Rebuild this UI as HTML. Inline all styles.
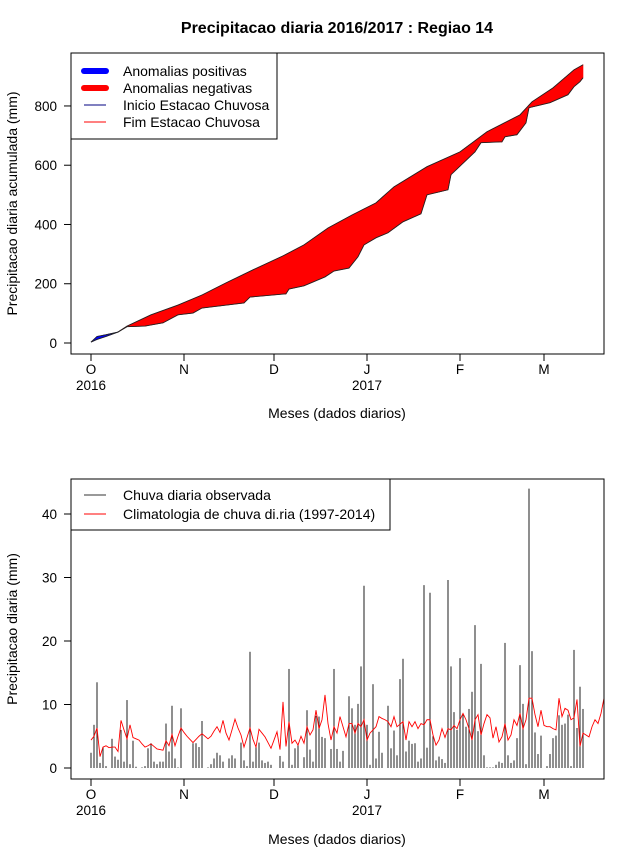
<!DOCTYPE html>
<html><head><meta charset="utf-8">
<style>
html,body{margin:0;padding:0;background:#fff;}
svg{display:block;font-family:"Liberation Sans",Arial,sans-serif;}
</style></head>
<body>
<svg id="chart" width="640" height="850" viewBox="0 0 640 850" xmlns="http://www.w3.org/2000/svg">
  <text x="337" y="33" text-anchor="middle" font-size="16" font-weight="bold">Precipitacao diaria 2016/2017 : Regiao 14</text>
  <g id="topPanel"></g>
  <g id="botPanel"></g>
</svg>
<script>
// ---- Top chart data (cumulative, mm) ----
const climDays = [0,2,5,9,12,20,29,37,45,54,64,71,79,87,95,101,112,123,132,143,147,154,161,164];
const climCum  = [3,12,22,37,57,95,128,162,203,247,294,331,388,432,473,527,595,645,713,770,814,861,922,939];
const obsDays  = [0,2,5,9,12,18,24,29,34,37,51,53,65,66,71,78,81,86,89,91,95,99,104,110,112,119,120,128,130,137,138,142,145,146,153,159,161,163,164];
const obsCum   = [3,22,28,37,55,57,68,95,101,118,135,155,166,182,193,223,243,253,291,331,355,372,409,436,500,517,568,645,676,679,696,703,743,794,811,838,865,882,895];
const topTicks = [0,200,400,600,800];
// ---- Bottom chart data (daily, mm) ----
const rain = [2.4,6.8,13.5,0.8,3.3,0.3,0,4.6,1.8,1.3,
6,1,10.7,0.6,4.3,0.2,0,0.1,0.3,3.1,
3.9,1,0.6,1,1,7,2.6,9.8,1.5,0.1,
9.4,0,0,0,3.9,3.9,3.3,7.4,0,0.1,
0.6,1.5,2.4,2,1,0,1.5,2,1.5,0,
4,1.2,0.3,18.3,1,3.3,4,1.2,0.8,1,
0.5,0,0,1.9,1,0,15.6,0.5,3.1,3.6,
0,1.7,9.1,2.9,1,8.2,8.1,4.9,4.7,0,
3,15.6,3,1,2.7,0,11.3,9.4,6.8,10.1,
16,28.7,6.8,0.5,13.2,1.5,5.7,2.4,0,9.8,
3.1,5.9,2,14,17.2,2.6,4.3,3.8,3.9,1,
1.5,28.8,3.2,27.6,5,1.2,1.8,1.4,0.8,29.6,
16,8.8,6,17.3,8.4,6.5,9.3,12,22.5,5.8,
16.4,2,0.1,0.1,0.1,0.5,1,0.8,19.7,2,
0.8,1.2,4.7,16.2,10.1,0.6,44,18.4,5.6,2.2,
5.1,0,0.3,2.2,4.7,5.1,8.3,6.8,7,8.4,
0.3,18.6,6.3,12.8,9.3];
const clim = [4.4,5,6.3,1.8,3.3,3.5,3.2,3.3,3.3,2.6,
7.5,6,4.6,6.8,4.8,4.6,4.4,3.8,3.3,3.5,
3.8,3.4,3,2.9,2.8,4.3,3.5,5.3,3.5,5,
6.3,5.6,5,4.5,4,4.5,5,5.4,5,4.6,
5,5.8,6.5,5.6,7.5,5.5,4.4,6,7.7,6.3,
5.2,3.3,4.8,6.3,4.5,3.3,6.1,5.5,4.9,4,
3.1,4.4,5.7,2.9,10.4,3.4,7.3,3.9,4.4,3.6,
5,3.9,6.5,5.2,6,9.1,6.2,7.6,11.5,7,
4.4,6.5,5.5,8.1,6.5,4.9,7,7,5.5,7,
6.5,7.6,4.4,5.5,6,6.5,8.1,7.8,7.6,7.3,
6.5,8.1,6.5,6.9,7.3,4.4,7.3,6.5,7.3,6.2,
7,6.8,7.6,7.6,5.2,3.6,4.4,6.2,4.8,6.2,
6,6.7,6.2,7.6,8.6,7.6,6.2,4.4,7.6,8.4,
5.2,7,8.4,7.9,4.7,6.5,4.1,4.9,7,4.4,
5.2,7.6,6.7,8.6,6.2,7.6,11,11,8.4,6.5,
9.1,6.7,6.5,6.5,6.2,6,11,8.1,9.4,9.1,
7.6,7.9,10.8,3.4,5.5,5.2,4.9,6.5,7.6,7,8.6,11];
const botTicks = [0,10,20,30,40];
const monthLabels = ["O","N","D","J","F","M"];
const monthDays = [0,31,61,92,123,151];
const yearLabels = ["2016","2017"];
const yearDays = [0,92];

const NS="http://www.w3.org/2000/svg";
function mk(tag,attrs,parent,text){const e=document.createElementNS(NS,tag);for(const k in attrs)e.setAttribute(k,attrs[k]);if(text!==undefined)e.textContent=text;parent.appendChild(e);return e;}
const X=d=>91+3*d;
const Yt=v=>343-v*0.2963;
const Yb=v=>768-v*6.35;
function interp(ds,vs,d){if(d<=ds[0])return vs[0];for(let i=1;i<ds.length;i++){if(d<=ds[i]){const t=(d-ds[i-1])/(ds[i]-ds[i-1]);return vs[i-1]+t*(vs[i]-vs[i-1]);}}return vs[vs.length-1];}

function axes(g,y0,y1,ticks,Y,ylab,xlabY){
  const box=mk('rect',{x:71,y:y0,width:533,height:y1-y0,fill:'none',stroke:'#000','stroke-width':1},g);
  
  
  ticks.forEach(t=>{
    const l=mk('line',{x1:64,x2:71,y1:Y(t),y2:Y(t),stroke:'#000'},g);
    
    
    const tx=mk('text',{x:57,y:Y(t)+5,'text-anchor':'end','font-size':13.5},g,String(t));
    
    
  });
  monthDays.forEach((d,i)=>{
    const l=mk('line',{x1:X(d),x2:X(d),y1:y1,y2:y1+7,stroke:'#000'},g);
    
    
    const tx=mk('text',{x:X(d),y:y1+20,'text-anchor':'middle','font-size':13.5},g,monthLabels[i]);
    
    
  });
  yearDays.forEach((d,i)=>{
    const tx=mk('text',{x:X(d),y:y1+36,'text-anchor':'middle','font-size':13.5},g,yearLabels[i]);
    
    
  });
  const xl=mk('text',{x:337,y:xlabY,'text-anchor':'middle','font-size':14},g,'Meses (dados diarios)');
  
  
  const cy=(y0+y1)/2;
  const yl=mk('text',{x:17,y:cy,'text-anchor':'middle','font-size':14,transform:`rotate(-90 17 ${cy})`},g,ylab);
  
  
}

// ---- Top panel ----
const topG=document.getElementById('topPanel');
const lastDay=Math.max(climDays[climDays.length-1],obsDays[obsDays.length-1]);
for(let d=0;d<lastDay;d++){
  const c0=interp(climDays,climCum,d),c1=interp(climDays,climCum,d+1);
  const o0=interp(obsDays,obsCum,d),o1=interp(obsDays,obsCum,d+1);
  const col=(c0+c1)>=(o0+o1)?'#ff0000':'#0000ff';
  const p=mk('polygon',{points:`${X(d)},${Yt(c0)} ${X(d+1)},${Yt(c1)} ${X(d+1)},${Yt(o1)} ${X(d)},${Yt(o0)}`,fill:col,stroke:col,'stroke-width':0.6},topG);
  
  
}
const cl=mk('polyline',{points:climDays.map((d,i)=>`${X(d)},${Yt(climCum[i])}`).join(' '),fill:'none',stroke:'#222','stroke-width':0.9},topG);


const ol=mk('polyline',{points:obsDays.map((d,i)=>`${X(d)},${Yt(obsCum[i])}`).join(' '),fill:'none',stroke:'#222','stroke-width':0.9},topG);


axes(topG,53,354,topTicks,Yt,'Precipitacao diaria acumulada (mm)',418);
// top legend
const lg=mk('g',{},topG);


mk('rect',{x:71,y:53,width:206,height:86,fill:'#fff',stroke:'#000'},lg);
const legItems=[["Anomalias positivas","#0000ff",6],["Anomalias negativas","#ff0000",6],["Inicio Estacao Chuvosa","#000080",1],["Fim Estacao Chuvosa","#ff0000",1]];
legItems.forEach((it,i)=>{
  const y=71+i*17;
  const l=mk('line',{x1:84,x2:106,y1:y,y2:y,stroke:it[1],'stroke-width':it[2],'stroke-linecap':it[2]>1?'round':'butt'},lg);
  
  
  const t=mk('text',{x:123,y:y+5,'font-size':14},lg,it[0]);
  
  
});

// ---- Bottom panel ----
const botG=document.getElementById('botPanel');
rain.forEach((v,d)=>{
  const b=mk('line',{x1:X(d),x2:X(d),y1:Yb(0),y2:Yb(v),stroke:'#333','stroke-width':1.1},botG);
  
  
});
const cline=mk('polyline',{points:clim.map((v,d)=>`${X(d)},${Yb(v)}`).join(' '),fill:'none',stroke:'#ff0000','stroke-width':0.9},botG);


axes(botG,479,779,botTicks,Yb,'Precipitacao diaria (mm)',844);
const lg2=mk('g',{},botG);


mk('rect',{x:71,y:479,width:319,height:51,fill:'#fff',stroke:'#000'},lg2);
[["Chuva diaria observada","#333"],["Climatologia de chuva di.ria (1997-2014)","#ff0000"]].forEach((it,i)=>{
  const y=495+i*19;
  const l=mk('line',{x1:84,x2:106,y1:y,y2:y,stroke:it[1],'stroke-width':1},lg2);
  
  
  const t=mk('text',{x:123,y:y+5,'font-size':14},lg2,it[0]);
  
  
});
</script>
</body></html>
